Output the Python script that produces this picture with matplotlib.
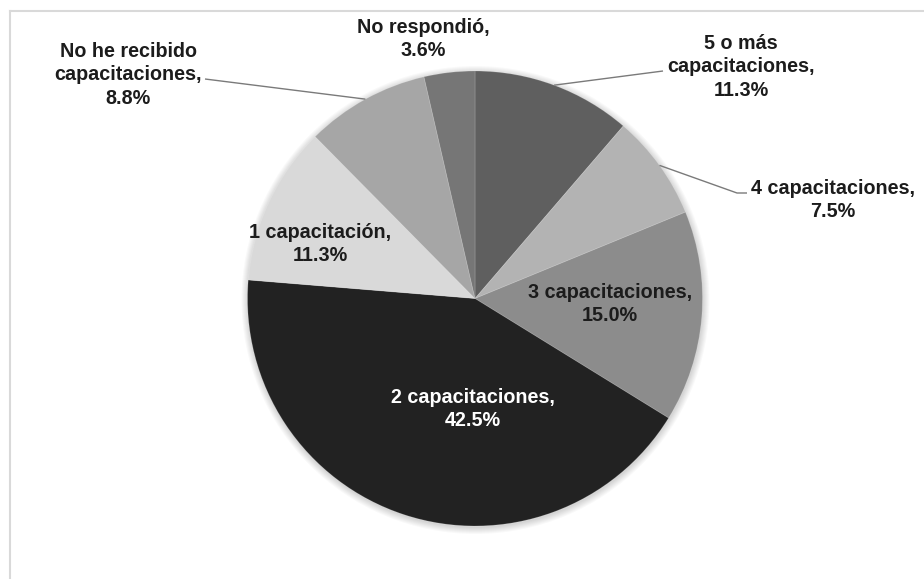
import numpy as np
import matplotlib
matplotlib.use("Agg")
import matplotlib.pyplot as plt
from matplotlib.patches import Circle

# Distribución de capacitaciones recibidas (porcentaje), en sentido horario desde las 12
categorias = [
    "5 o más\ncapacitaciones",
    "4 capacitaciones",
    "3 capacitaciones",
    "2 capacitaciones",
    "1 capacitación",
    "No he recibido\ncapacitaciones",
    "No respondió",
]
porcentajes = [11.3, 7.5, 15.0, 42.5, 11.3, 8.8, 3.6]
colores = ["#5f5f5f", "#b3b3b3", "#8c8c8c", "#222222", "#d9d9d9", "#a6a6a6", "#767676"]

W, H = 924, 579
fig = plt.figure(figsize=(W / 100, H / 100), dpi=100)
ax = fig.add_axes([0, 0, 1, 1])


def py(y):
    """Convierte una coordenada vertical medida desde arriba."""
    return H - y


cx, cy, r = 475, py(298.5), 227.5

# sombra suave alrededor del pastel
for k in range(7):
    ax.add_patch(Circle((cx + 0.5, cy - 1.5), r + 0.5 + k * 1.0,
                        color="black", alpha=0.025, lw=0, zorder=0))

wedges, _ = ax.pie(
    porcentajes, colors=colores, startangle=90, counterclock=False,
    center=(cx, cy), radius=r, frame=True,
    wedgeprops=dict(linewidth=0.6, edgecolor=(1, 1, 1, 0.18)),
)
for w in wedges:
    w.set_zorder(2)

ax.set_xlim(0, W)
ax.set_ylim(0, H)
ax.set_aspect("equal")
ax.axis("off")

# posición (centro del bloque de texto) y color de cada etiqueta
etiquetas_pos = [(741, 67), (833, 200), (610, 304), (473, 409),
                 (320, 244), (128, 75), (423, 39)]
etiquetas_color = ["#1c1c1c", "#1c1c1c", "#1c1c1c", "white",
                   "#1c1c1c", "#1c1c1c", "#1c1c1c"]

for cat, val, (tx, ty), col in zip(categorias, porcentajes, etiquetas_pos, etiquetas_color):
    ax.text(tx, py(ty), f"{cat},\n{val:.1f}%", ha="center", va="center",
            fontsize=14.2, fontweight="bold", family="Liberation Sans",
            color=col, linespacing=1.3, zorder=5)

# líneas guía desde el borde de la porción hasta su etiqueta
guias = {0: [(663, 71)], 1: [(737, 193), (747, 193)], 5: [(205, 79)]}
acum = np.cumsum([0] + porcentajes[:-1])
for i, pts in guias.items():
    ang = np.deg2rad(90 - 360 * (acum[i] + porcentajes[i] / 2) / 100)
    xs = [cx + r * np.cos(ang)] + [p[0] for p in pts]
    ys = [cy + r * np.sin(ang)] + [py(p[1]) for p in pts]
    ax.plot(xs, ys, color="#7a7a7a", lw=1.0, zorder=4, solid_capstyle="butt")

# marco del área del gráfico
ax.plot([10, W], [py(11), py(11)], color="#d9d9d9", lw=1.5, zorder=1)
ax.plot([10, 10], [py(11), 0], color="#d9d9d9", lw=1.5, zorder=1)

fig.savefig("out.png", dpi=100, facecolor="white")
